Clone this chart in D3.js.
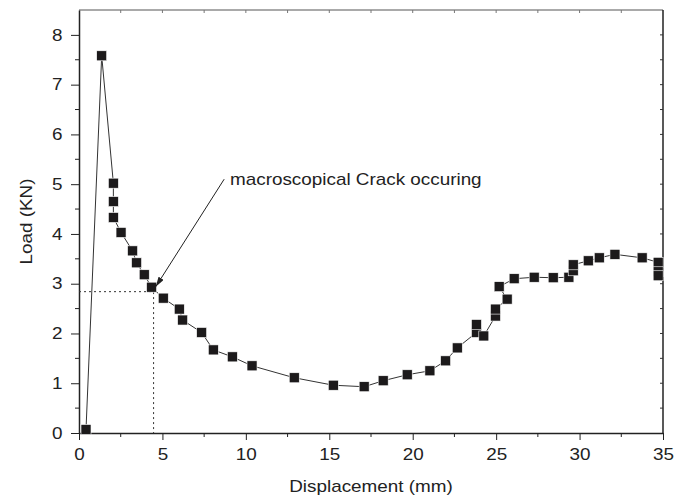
<!DOCTYPE html>
<html lang="en">
<head>
    <meta charset="UTF-8">
    <title>Load vs Displacement</title>
    <script src="https://cdn.jsdelivr.net/npm/d3@7"></script>
    <style>
        body { margin: 0; background: #fff; }
        text { font-family: "Liberation Sans", Arial, sans-serif; fill: #222; }
    </style>
</head>
<body>
    <div id="chart"></div>
    <script>
        // displacement (mm) / load (KN), in drawing order
        const disp = [0.42, 1.36, 2.06, 2.06, 2.06, 2.52, 3.21, 3.45, 3.91, 4.35, 5.05, 6.01, 6.21, 7.35, 8.05, 9.19,
            10.37, 12.9, 15.24, 17.09, 18.23, 19.67, 21.03, 21.97, 22.67, 23.82, 23.82, 24.26, 24.96, 24.96, 25.66,
            25.18, 26.08, 27.28, 28.42, 29.36, 29.62, 29.62, 30.52, 31.18, 32.12, 33.75, 34.71, 34.71, 34.71];
        const load = [0.07, 7.58, 5.02, 4.65, 4.33, 4.03, 3.66, 3.42, 3.18, 2.93, 2.71, 2.49, 2.27, 2.02, 1.67, 1.53,
            1.35, 1.11, 0.96, 0.93, 1.05, 1.17, 1.25, 1.45, 1.71, 2.02, 2.18, 1.95, 2.35, 2.49, 2.69,
            2.94, 3.10, 3.13, 3.12, 3.13, 3.26, 3.38, 3.46, 3.52, 3.59, 3.52, 3.43, 3.24, 3.16];

        const xTicks = [0, 5, 10, 15, 20, 25, 30, 35];
        const yTicks = [0, 1, 2, 3, 4, 5, 6, 7, 8];

        // crack point + annotation (data units)
        const crack = { x: 4.47, y: 2.84 };
        const note = { text: "macroscopical Crack occuring", x: 9.05, y: 4.99, fromX: 8.7, fromY: 5.1, toX: 4.6, toY: 2.94 };

        const width = 686, height = 499;
        const x = d3.scaleLinear().domain([0, 35]).range([79, 663]);
        const y = d3.scaleLinear().domain([0, 8.5]).range([433, 10]);
        const stretch = "scale(1.18,1)";

        const svg = d3.select("#chart").append("svg")
            .attr("width", width)
            .attr("height", height);

        svg.append("defs").append("marker")
            .attr("id", "arrow")
            .attr("viewBox", "0 0 10 6")
            .attr("refX", 10).attr("refY", 3)
            .attr("markerWidth", 10).attr("markerHeight", 6)
            .attr("markerUnits", "userSpaceOnUse")
            .attr("orient", "auto")
            .append("path").attr("d", "M0,0L10,3L0,6Z").attr("fill", "#222");

        // frame: top and right
        svg.append("line").attr("x1", x(0)).attr("x2", x(35)).attr("y1", y(8.5)).attr("y2", y(8.5))
            .attr("stroke", "#555").attr("stroke-width", 1);
        svg.append("line").attr("x1", x(35)).attr("x2", x(35)).attr("y1", y(8.5)).attr("y2", y(0))
            .attr("stroke", "#222").attr("stroke-width", 1.5);
        svg.append("g").selectAll("line").data(d3.range(2.5, 35, 2.5)).join("line")
            .attr("x1", d => x(d)).attr("x2", d => x(d)).attr("y1", y(8.5)).attr("y2", y(8.5) + 3)
            .attr("stroke", "#777");
        svg.append("g").selectAll("line").data(d3.range(0.5, 8.5, 0.5)).join("line")
            .attr("x1", x(35)).attr("x2", x(35) - 3).attr("y1", d => y(d)).attr("y2", d => y(d))
            .attr("stroke", "#333");

        // bottom axis
        const xAxis = svg.append("g").attr("transform", `translate(0,${y(0)})`)
            .call(d3.axisBottom(x).tickValues(xTicks).tickSize(7).tickSizeOuter(0).tickPadding(5));
        xAxis.append("g").selectAll("line").data(d3.range(2.5, 35, 5)).join("line")
            .attr("x1", d => x(d)).attr("x2", d => x(d)).attr("y2", 4).attr("stroke", "#222");

        // left axis
        const yAxis = svg.append("g").attr("transform", `translate(${x(0)},0)`)
            .call(d3.axisLeft(y).tickValues(yTicks).tickSize(8).tickSizeOuter(0).tickPadding(6));
        yAxis.append("g").selectAll("line").data(d3.range(0.5, 8.5, 1)).join("line")
            .attr("y1", d => y(d)).attr("y2", d => y(d)).attr("x2", -4).attr("stroke", "#222");

        svg.selectAll(".domain").attr("stroke", "#222").attr("stroke-width", 1.5);
        svg.selectAll(".tick line").attr("stroke", "#222");
        svg.selectAll(".tick text").attr("font-size", 16).attr("font-family", null).attr("fill", null)
            .attr("transform", stretch);
        xAxis.selectAll(".tick text").attr("dy", "0.95em");

        // axis titles
        svg.append("text")
            .attr("text-anchor", "middle")
            .attr("font-size", 16)
            .attr("transform", `translate(${(x(0) + x(35)) / 2},492) ${stretch}`)
            .text("Displacement (mm)");
        svg.append("text")
            .attr("text-anchor", "middle")
            .attr("font-size", 16)
            .attr("transform", `translate(32,${y(4.25)}) rotate(-90) ${stretch}`)
            .text("Load (KN)");

        // dotted guide lines at crack point
        svg.append("path")
            .attr("d", `M${x(0)},${y(crack.y)}H${x(crack.x)}V${y(0)}`)
            .attr("fill", "none")
            .attr("stroke", "#333")
            .attr("stroke-width", 1)
            .attr("stroke-dasharray", "2,3");

        // curve
        const pts = disp.map((d, i) => [d, load[i]]);
        svg.append("path")
            .datum(pts)
            .attr("d", d3.line().x(d => x(d[0])).y(d => y(d[1])))
            .attr("fill", "none")
            .attr("stroke", "#333")
            .attr("stroke-width", 1);

        svg.append("g").selectAll("rect").data(pts).join("rect")
            .attr("x", d => x(d[0]) - 5)
            .attr("y", d => y(d[1]) - 5)
            .attr("width", 10)
            .attr("height", 10)
            .attr("fill", "#1c1a1b")
            .attr("stroke", "#fff")
            .attr("stroke-width", 0.6);

        // annotation
        svg.append("line")
            .attr("x1", x(note.fromX)).attr("y1", y(note.fromY))
            .attr("x2", x(note.toX)).attr("y2", y(note.toY))
            .attr("stroke", "#222")
            .attr("stroke-width", 1)
            .attr("marker-end", "url(#arrow)");
        svg.append("text")
            .attr("font-size", 16)
            .attr("transform", `translate(${x(note.x)},${y(note.y)}) ${stretch}`)
            .text(note.text);
    </script>
</body>
</html>
